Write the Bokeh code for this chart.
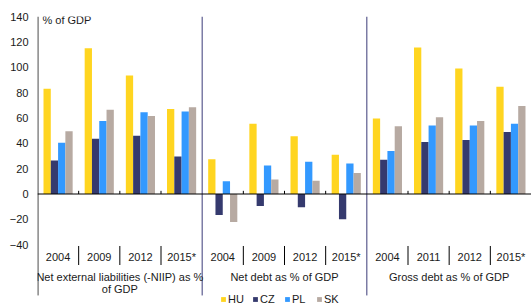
from bokeh.plotting import figure
from bokeh.models import ColumnDataSource, FactorRange, FixedTicker, Span, Legend, LegendItem, Label
from bokeh.transform import dodge
from bokeh.core.properties import value
from bokeh.embed import file_html
from bokeh.resources import INLINE

# ---- data ----
groups = ["niip", "net", "gross"]
group_labels = ["Net external liabilities (-NIIP) as %\nof GDP", "Net debt as % of GDP", "Gross debt as % of GDP"]
years = [["2004", "2009", "2012", "2015*"],
         ["2004", "2009", "2012", "2015*"],
         ["2004", "2011", "2012", "2015*"]]
series = ["HU", "CZ", "PL", "SK"]
hu = [83, 115, 93.5, 67, 27.5, 55.5, 45.5, 31, 59.5, 115.5, 99, 84.5]
cz = [26.5, 43.5, 46, 29.5, -16.5, -9.5, -10.5, -20, 27, 41, 42.5, 49]
pl = [40.5, 57.5, 64.5, 65, 10, 22.5, 25.5, 24, 34, 54, 54, 55.5]
sk = [49.5, 66.5, 61.5, 68.5, -22, 11.5, 10.5, 16.5, 53.5, 60.5, 57.5, 69.5]
y_ticks = [-40, -20, 0, 20, 40, 60, 80, 100, 120, 140]
colors = ["#FFD520", "#353A6E", "#3399FF", "#B7AAA2"]

FONTNAME = "Liberation Sans"
FONT = value(FONTNAME)
TXT = "#1a1a1a"

factors = [(g, y) for g, ys in zip(groups, years) for y in ys]
x_range = FactorRange(*factors, factor_padding=0, group_padding=0,
                      subgroup_padding=0, range_padding=0)

p = figure(width=531, height=308, x_range=x_range, y_range=(-90.3, 140),
           x_axis_location=None, output_backend="svg", toolbar_location=None,
           min_border_left=37, min_border_right=0, min_border_top=16,
           min_border_bottom=0)
p.outline_line_color = None
p.grid.visible = False

src = ColumnDataSource(dict(x=factors, HU=hu, CZ=cz, PL=pl, SK=sk))
bw = 0.177
renderers = []
for i, (name, col) in enumerate(zip(series, colors)):
    off = (i - 1.5) * bw
    r = p.vbar(x=dodge("x", off, range=p.x_range), top=name, bottom=0,
               width=bw, source=src, fill_color=col, line_color=None)
    renderers.append(r)

p.add_layout(Span(location=0, dimension="width", line_color="black", line_width=1))

# y axis line (drawn inside the frame, stopping at -80 like the reference)
ax_src = ColumnDataSource(dict(x=[factors[0]]))
axx = dodge("x", -0.49, range=p.x_range)
p.segment(x0=axx, x1=axx, y0=-80, y1=140, source=ax_src, line_color="black", line_width=1)

# separators between categories (label area + small ticks on zero line)
sep_x = [(g, ys[i]) for g, ys in zip(groups, years) for i in range(1, len(ys))]
sep_src = ColumnDataSource(dict(x=sep_x))
sx = dodge("x", -0.5, range=p.x_range)
p.segment(x0=sx, x1=sx, y0=-41, y1=-56, source=sep_src, line_color="black", line_width=1)
p.segment(x0=sx, x1=sx, y0=0, y1=2.5, source=sep_src, line_color="black", line_width=1)

# separators between groups
gsep_src = ColumnDataSource(dict(x=[(g, ys[0]) for g, ys in zip(groups[1:], years[1:])]))
p.segment(x0=sx, x1=sx, y0=-80, y1=140, source=gsep_src, line_color="#3b3b78", line_width=1)

# category labels
p.text(x="x", y=-50, text="t", source=ColumnDataSource(dict(x=factors, t=[f[1] for f in factors])),
       text_align="center", text_baseline="middle", text_font=FONT,
       text_font_size="11px", text_color=TXT)
# group labels
p.text(x=groups, y=[-61] * len(groups), text=group_labels, text_align="center",
       text_baseline="top", text_line_height=1.0, text_font=FONT,
       text_font_size="11px", text_color=TXT)

p.add_layout(Label(x=5, y=137.5, x_units="screen", text="% of GDP", text_baseline="middle",
                   text_font=FONTNAME, text_font_size="11px", text_color=TXT))

ax = p.yaxis[0]
ax.ticker = FixedTicker(ticks=y_ticks)
ax.major_tick_out = 0
ax.major_tick_in = 0
ax.minor_tick_out = 0
ax.minor_tick_in = 0
ax.major_label_standoff = 9
ax.axis_line_color = None
ax.major_label_text_font = FONTNAME
ax.major_label_text_font_size = "11px"
ax.major_label_text_color = TXT

legend = Legend(items=[LegendItem(label=s, renderers=[r]) for s, r in zip(series, renderers)],
                orientation="horizontal", location=(183, 3), padding=0, margin=0,
                glyph_width=6, glyph_height=6, label_standoff=2, label_width=18,
                spacing=6, label_height=11, label_text_font=FONTNAME,
                label_text_font_size="11px", label_text_color=TXT,
                border_line_color=None, background_fill_alpha=0)
p.add_layout(legend, "center")

open("out.html", "w").write(file_html(p, INLINE))
